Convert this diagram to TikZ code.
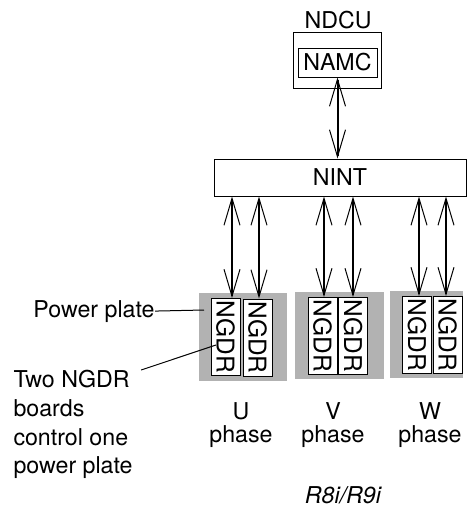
\documentclass[tikz,border=0pt]{standalone}
\usepackage{fontspec}
\setmainfont{TeX Gyre Heros}
\usetikzlibrary{arrows.meta}

\begin{document}
\begin{tikzpicture}[x=1pt,y=-1pt,line width=1pt,font=\fontsize{23.2}{28.7}\selectfont,
  bus/.style={<->,>={Straight Barb[length=27pt,width=16pt,line width=1pt]},line width=2pt},
  board/.style={shape=rectangle,draw,fill=white,rotate=-90,inner sep=0pt,minimum width=77pt,minimum height=29pt,font=\fontsize{24.5}{24}\selectfont},
  plate/.style={shape=rectangle,fill=black!30,inner sep=0pt,minimum height=87pt},
  phase/.style={align=center,anchor=north,inner sep=0pt,font=\fontsize{23.2}{23}\selectfont}]
\useasboundingbox (0,0) rectangle (471,507);
\node(ndcu)[shape=rectangle,draw,minimum width=88pt,minimum height=56pt] at (337,60){};
\node(ndcutext) at (338,20){NDCU};
\node(namc)[shape=rectangle,draw,inner sep=0pt,minimum width=79pt,minimum height=29pt] at (337.5,62.5){NAMC};
\node(nint)[shape=rectangle,draw,minimum width=252pt,minimum height=37pt] at (340,177.5){NINT};
\node(uplate)[plate,minimum width=88pt,minimum height=88pt] at (243,337){};
\node(vplate)[plate,minimum width=89pt] at (339.5,335.5){};
\node(wplate)[plate,minimum width=73pt] at (426.5,334.5){};
\node(u1)[board] at (225.5,337){NGDR};
\node(u2)[board] at (257.5,337.5){NGDR};
\node(v1)[board] at (322.5,336){NGDR};
\node(v2)[board] at (353,336){NGDR};
\node(w1)[board] at (417,335){NGDR};
\node(w2)[board] at (447.5,335){NGDR};
\draw[bus] (namc.south) -- (namc.south |- nint.north);
\draw[bus] ([xshift=6.5pt]u1.west |- nint.south) -- ([xshift=6.5pt]u1.west);
\draw[bus] ([xshift=1.5pt]u2.west |- nint.south) -- ([xshift=1.5pt]u2.west);
\draw[bus] ([xshift=1.5pt]v1.west |- nint.south) -- ([xshift=1.5pt]v1.west);
\draw[bus] (v2.west |- nint.south) -- (v2.west);
\draw[bus] ([xshift=2pt]w1.west |- nint.south) -- ([xshift=2pt]w1.west);
\draw[bus] ([xshift=-1.5pt]w2.west |- nint.south) -- ([xshift=-1.5pt]w2.west);
\node(platetext)[anchor=base west,inner sep=0pt] at (33,317){Power plate};
\coordinate(plateend) at (204,310);
\draw (platetext.east) -- (plateend);
\node(boardtext)[anchor=north west,align=left,inner sep=0pt] at (13,370){Two NGDR\\boards\\control one\\power plate};
\coordinate(boardend) at (216,345);
\draw ([xshift=8pt]boardtext.north east) -- (boardend);
\node(uphase)[phase] at (241,402){U\\phase};
\node(vphase)[phase] at (333,402){V\\phase};
\node(wphase)[phase] at (430,402){W\\phase};
\node(model)[font=\fontsize{23.2}{24}\selectfont\itshape] at (343,495){R8i/R9i};
\end{tikzpicture}
\end{document}
